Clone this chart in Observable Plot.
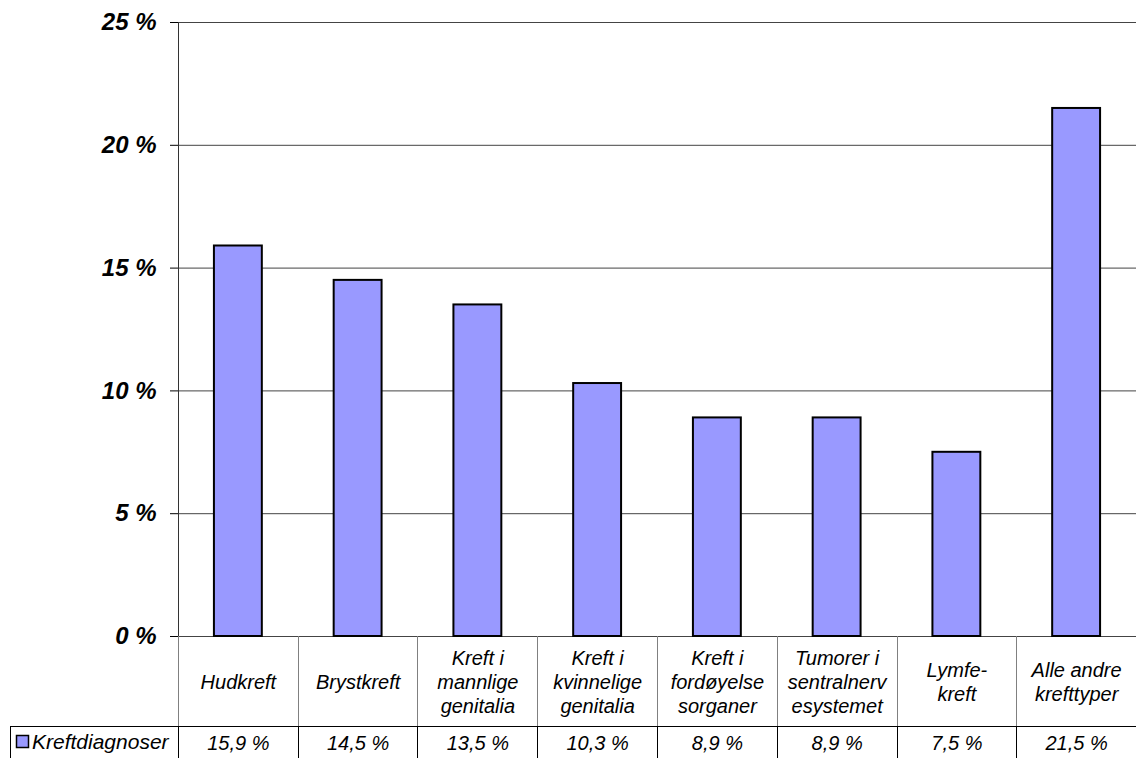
<!DOCTYPE html>
<html>
<head>
<meta charset="utf-8">
<script src="https://cdn.jsdelivr.net/npm/d3@7"></script>
<script src="https://cdn.jsdelivr.net/npm/@observablehq/plot@0.6"></script>
<style>
  html, body { margin: 0; padding: 0; background: #fff; }
  #chart svg { display: block; font-family: "Liberation Sans", Arial, sans-serif; }
</style>
</head>
<body>
<div id="chart"></div>
<script>
const categories = [
  "Hudkreft",
  "Brystkreft",
  "Kreft i\nmannlige\ngenitalia",
  "Kreft i\nkvinnelige\ngenitalia",
  "Kreft i\nfordøyelse\nsorganer",
  "Tumorer i\nsentralnerv\nesystemet",
  "Lymfe-\nkreft",
  "Alle andre\nkrefttyper"
];
const values = [15.9, 14.5, 13.5, 10.3, 8.9, 8.9, 7.5, 21.5];
const yTicks = [0, 5, 10, 15, 20, 25];
const seriesName = "Kreftdiagnoser";

const data = categories.map((c, i) => ({cat: c, value: values[i]}));
const fmt = v => v.toFixed(1).replace(".", ",") + " %";
const barColor = "#9999FF";

const chart = Plot.plot({
  width: 1136,
  height: 758,
  marginLeft: 178,
  marginRight: 0,
  marginTop: 22,
  marginBottom: 122,
  style: {background: "#fff", fontFamily: "'Liberation Sans', Arial, sans-serif"},
  x: {domain: categories, paddingInner: 0.6, paddingOuter: 0.3, round: false, axis: null},
  y: {domain: [0, 25], axis: null},
  marks: [
    Plot.gridY(yTicks, {stroke: "#444", strokeOpacity: 1, strokeWidth: 1}),
    Plot.axisY(yTicks, {
      label: null,
      tickFormat: d => `${d} %`, tickSize: 8, tickPadding: 14,
      fontSize: 24, fontWeight: "bold", fontStyle: "italic", fill: "#000", stroke: "#000"
    }),
    Plot.barY(data, {x: "cat", y: "value", fill: barColor, stroke: "#000", strokeWidth: 2}),
    Plot.text(data, {
      x: "cat", y: () => 0, text: "cat", dy: 45, lineAnchor: "middle",
      lineHeight: 1.2, fontSize: 20, fontStyle: "italic", fill: "#000"
    }),
    Plot.text(data, {
      x: "cat", y: () => 0, text: d => fmt(d.value), dy: 107, lineAnchor: "middle",
      fontSize: 20, fontStyle: "italic", fill: "#000"
    })
  ]
});
document.getElementById("chart").appendChild(chart);

// table structure drawn with the plot's own scales
const xs = chart.scale("x"), ys = chart.scale("y");
const step = xs.step, bw = xs.bandwidth;
const left = xs.range[0], right = xs.range[1];
const y0 = ys.apply(0), yTop = ys.apply(25);
const row1 = y0 + 90, row2 = 758;
const bounds = categories.map(c => xs.apply(c) + bw / 2 - step / 2);
bounds.push(right);
const svg = d3.select(chart);
const g = svg.append("g").attr("fill", "none");
// left value-axis line
g.append("line").attr("x1", left + 0.5).attr("x2", left + 0.5).attr("y1", yTop).attr("y2", y0)
  .attr("stroke", "#333");
// row 1 separators
bounds.forEach(b => {
  const bx = Math.round(b) + 0.5;
  g.append("line").attr("x1", bx).attr("x2", bx).attr("y1", y0).attr("y2", row1)
    .attr("stroke", "#808080");
});
// row 1/2 horizontal
g.append("line").attr("x1", 10).attr("x2", right).attr("y1", row1 + 0.5).attr("y2", row1 + 0.5)
  .attr("stroke", "#000");
// row 2 separators
[10, ...bounds].forEach(b => {
  const bx = Math.round(b) + 0.5;
  g.append("line").attr("x1", bx).attr("x2", bx).attr("y1", row1).attr("y2", row2)
    .attr("stroke", "#000");
});
// legend key in table
svg.append("rect").attr("x", 16.5).attr("y", 735.5).attr("width", 12).attr("height", 12)
  .attr("fill", barColor).attr("stroke", "#000").attr("stroke-width", 1.5);
svg.append("text").attr("x", 32).attr("y", 742).attr("dy", "0.35em")
  .attr("text-anchor", "start")
  .attr("font-size", 21).attr("font-style", "italic").attr("fill", "#000")
  .text(seriesName);
</script>
</body>
</html>
